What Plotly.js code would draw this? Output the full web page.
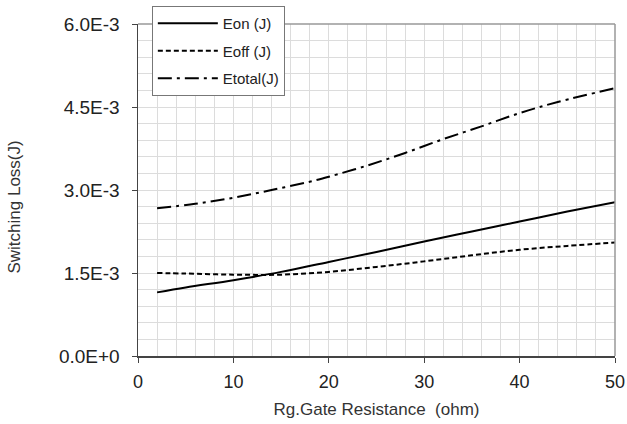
<!DOCTYPE html>
<html>
<head>
<meta charset="utf-8">
<script src="https://cdn.plot.ly/plotly-3.0.1.min.js"></script>
<style>html,body{margin:0;padding:0;background:#fff;}#chart{width:627px;height:424px;}</style>
</head>
<body>
<div id="chart"></div>
<script>
// Gate resistance (ohm)
const xOn   = [2, 5, 10, 15, 20, 25, 30, 35, 40, 45, 50];
const eOn   = [1.15e-3, 1.24e-3, 1.37e-3, 1.52e-3, 1.70e-3, 1.88e-3, 2.07e-3, 2.25e-3, 2.43e-3, 2.61e-3, 2.78e-3];
const xOff  = [2, 5, 10, 15, 20, 25, 30, 35, 40, 45, 50];
const eOff  = [1.50e-3, 1.49e-3, 1.47e-3, 1.47e-3, 1.52e-3, 1.61e-3, 1.71e-3, 1.82e-3, 1.92e-3, 1.99e-3, 2.05e-3];
const xTot  = [2, 6, 10, 14, 18, 20, 24, 28, 32, 36, 40, 44, 50];
const eTot  = [2.67e-3, 2.75e-3, 2.86e-3, 3.00e-3, 3.15e-3, 3.24e-3, 3.44e-3, 3.67e-3, 3.92e-3, 4.15e-3, 4.39e-3, 4.59e-3, 4.84e-3];
const seriesNames = ["Eon (J)", "Eoff (J)", "Etotal(J)"];
const yTickVals = [0, 1.5e-3, 3.0e-3, 4.5e-3, 6.0e-3];
const yTickText = ["0.0E+0", "1.5E-3", "3.0E-3", "4.5E-3", "6.0E-3"];
const xTickVals = [0, 10, 20, 30, 40, 50];
const xTickText = ["0", "10", "20", "30", "40", "50"];

const font = "Liberation Sans, Arial, sans-serif";
const traces = [
  {x: xOn, y: eOn, name: seriesNames[0], mode: "lines", line: {color: "#000", width: 2, shape: "spline"}, legendgroup: "a"},
  {x: xOff, y: eOff, name: seriesNames[1], mode: "lines", line: {color: "#000", width: 2, dash: "5px,3px", shape: "spline"}, legendgroup: "b"},
  {x: xTot, y: eTot, name: seriesNames[2], mode: "lines", line: {color: "#000", width: 2, dash: "14px,5px,3px,5px", shape: "spline"}, legendgroup: "c"}
];
const layout = {
  width: 627, height: 424,
  margin: {l: 138, r: 12, t: 24, b: 68, autoexpand: false},
  paper_bgcolor: "#fff", plot_bgcolor: "#fff",
  font: {family: font, color: "#222"},
  showlegend: true,
  legend: {
    x: 0.029, y: 1.054, xanchor: "left", yanchor: "top",
    bgcolor: "#fff", bordercolor: "#777", borderwidth: 1,
    font: {family: font, size: 15, color: "#222"},
    traceorder: "grouped", tracegroupgap: 5, itemwidth: 60
  },
  xaxis: {
    range: [0, 50], tickmode: "array", tickvals: xTickVals, ticktext: xTickText,
    ticks: "outside", ticklen: 5, tickcolor: "#444", ticklabelstandoff: 4,
    showline: true, linecolor: "#444", linewidth: 1.5,
    showgrid: true, gridcolor: "#dcdcdc", gridwidth: 1,
    minor: {dtick: 2, showgrid: true, gridcolor: "#dcdcdc", gridwidth: 1},
    zeroline: false,
    tickfont: {family: font, size: 18, color: "#222"},
    title: {text: "Rg.Gate Resistance  (ohm)", font: {family: font, size: 17, color: "#333"}, standoff: 12}
  },
  yaxis: {
    range: [0, 6.0e-3], tickmode: "array", tickvals: yTickVals, ticktext: yTickText,
    ticks: "outside", ticklen: 5, tickcolor: "#444", ticklabelstandoff: 8,
    showline: true, linecolor: "#444", linewidth: 1.5,
    showgrid: true, gridcolor: "#dcdcdc", gridwidth: 1,
    minor: {dtick: 0.3e-3, showgrid: true, gridcolor: "#dcdcdc", gridwidth: 1},
    zeroline: false,
    tickfont: {family: font, size: 19, color: "#222"}
  },
  shapes: [
    {type: "line", xref: "paper", yref: "paper", x0: 0, x1: 1, y0: 1, y1: 1, line: {color: "#999", width: 1.5}},
    {type: "line", xref: "paper", yref: "paper", x0: 1, x1: 1, y0: 0, y1: 1, line: {color: "#999", width: 1.5}}
  ],
  annotations: [
    {text: "Switching Loss(J)", xref: "paper", yref: "paper", x: -0.258, y: 0.45, textangle: -90,
     showarrow: false, xanchor: "center", yanchor: "middle", font: {family: font, size: 17, color: "#333"}}
  ]
};
Plotly.newPlot("chart", traces, layout, {displayModeBar: false, staticPlot: true});
</script>
</body>
</html>
